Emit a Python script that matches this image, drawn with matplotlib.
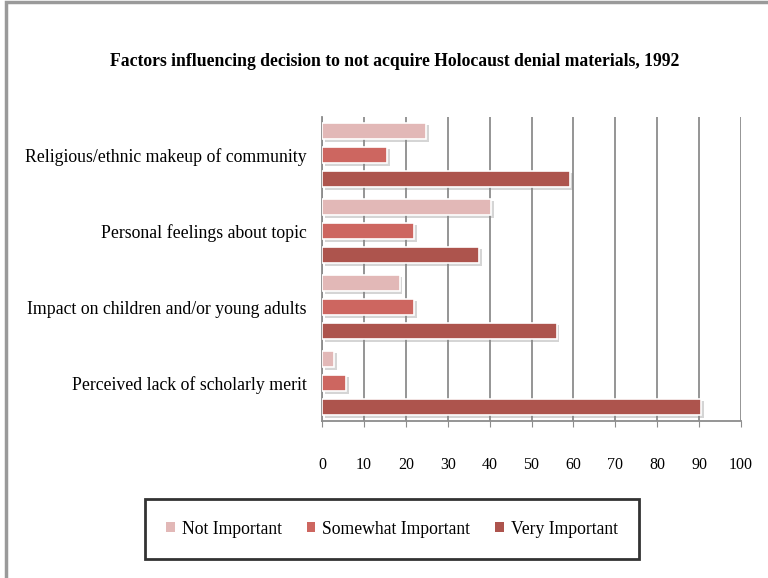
import numpy as np
import matplotlib
matplotlib.use("Agg")
from matplotlib import pyplot as plt
from matplotlib import patheffects as pe
from matplotlib.patches import Rectangle

categories = ["Religious/ethnic makeup of community",
              "Personal feelings about topic",
              "Impact on children and/or young adults",
              "Perceived lack of scholarly merit"]
series_names = ["Not Important", "Somewhat Important", "Very Important"]
not_important = [24.8, 40.4, 18.5, 2.9]
somewhat_important = [15.6, 21.9, 21.9, 5.8]
very_important = [59.3, 37.5, 56.0, 90.5]
colors = ["#E2B8B7", "#CD6660", "#AD544D"]
xticks = list(range(0, 101, 10))

plt.rcParams['font.family'] = ['Liberation Serif', 'DejaVu Serif']

fig = plt.figure(figsize=(7.68, 5.78), dpi=100)
fig.patches.append(Rectangle((6 / 768, -0.1), 1.2, 1.1 - 4 / 578 + 0.003,
                             transform=fig.transFigure, fill=False,
                             edgecolor="#9a9a9a", linewidth=2.5))

ax = fig.add_axes([322 / 768, 1 - 421 / 578, 419 / 768, 304 / 578])

y = np.arange(len(categories))
offs = [-0.315, 0, 0.315]
shadow = [pe.SimplePatchShadow(offset=(2, -2), shadow_rgbFace="#888888", alpha=0.35), pe.Normal()]
for vals, off, col, name in zip([not_important, somewhat_important, very_important],
                                offs, colors, series_names):
    bars = ax.barh(y + off, vals, height=0.22, color=col, edgecolor="white",
                   linewidth=1.2, label=name, zorder=3)
    for b in bars:
        b.set_path_effects(shadow)

ax.set_xlim(0, 100)
ax.set_ylim(3.5, -0.5)
ax.set_xticks(xticks)
ax.set_xticklabels([str(t) for t in xticks], fontsize=11.5)
ax.set_yticks(y)
ax.set_yticklabels(categories, fontsize=12.8)
ax.xaxis.grid(True, color="#8c8c8c", linewidth=1.3, zorder=0)
for s in ["top", "right"]:
    ax.spines[s].set_visible(False)
ax.spines["bottom"].set_color("#8c8c8c")
ax.spines["left"].set_color("#8c8c8c")
ax.spines["bottom"].set_linewidth(1.3)
ax.spines["left"].set_linewidth(1.3)
ax.tick_params(axis="x", length=4, color="#8c8c8c", pad=22)
ax.tick_params(axis="y", length=0, pad=11)

fig.text(395 / 768, 1 - 62 / 578, "Factors influencing decision to not acquire Holocaust denial materials, 1992",
         ha="center", va="center", fontsize=12.7, fontweight="bold")

leg = fig.legend(loc="center", bbox_to_anchor=(392 / 768, 1 - 529 / 578), ncol=3,
                 fontsize=12.7, frameon=True, fancybox=False, edgecolor="black",
                 handlelength=0.5, handleheight=0.5, handletextpad=0.4,
                 columnspacing=1.4, borderpad=1.2)
leg.get_frame().set_linewidth(2)
for h in leg.legend_handles:
    h.set_path_effects([])
    h.set_edgecolor("none")

fig.savefig("out.png", dpi=100)
